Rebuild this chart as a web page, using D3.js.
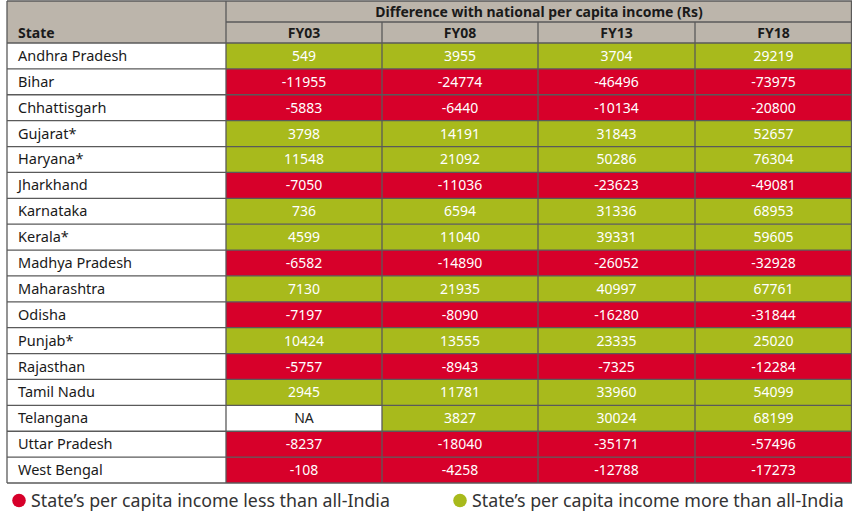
<!DOCTYPE html>
<html>
<head>
<meta charset="utf-8">
<script src="https://cdn.jsdelivr.net/npm/d3@7"></script>
<style>
  body { margin: 0; background: #fff; }
  svg { display: block; font-family: "Noto Sans", Roboto, sans-serif; }
</style>
</head>
<body>
<div id="chart"></div>
<script>
// data
var states = ["Andhra Pradesh", "Bihar", "Chhattisgarh", "Gujarat*", "Haryana*", "Jharkhand",
    "Karnataka", "Kerala*", "Madhya Pradesh", "Maharashtra", "Odisha", "Punjab*", "Rajasthan",
    "Tamil Nadu", "Telangana", "Uttar Pradesh", "West Bengal"];
var years = ["FY03", "FY08", "FY13", "FY18"];
var fy03 = [549, -11955, -5883, 3798, 11548, -7050, 736, 4599, -6582, 7130, -7197, 10424, -5757, 2945, null, -8237, -108];
var fy08 = [3955, -24774, -6440, 14191, 21092, -11036, 6594, 11040, -14890, 21935, -8090, 13555, -8943, 11781, 3827, -18040, -4258];
var fy13 = [3704, -46496, -10134, 31843, 50286, -23623, 31336, 39331, -26052, 40997, -16280, 23335, -7325, 33960, 30024, -35171, -12788];
var fy18 = [29219, -73975, -20800, 52657, 76304, -49081, 68953, 59605, -32928, 67761, -31844, 25020, -12284, 54099, 68199, -57496, -17273];
var legendLabels = ["State\u2019s per capita income less than all-India", "State\u2019s per capita income more than all-India"];

var width = 852, height = 517;
var red = "#d7002a", green = "#a8ba1c", headGray = "#bcb5ab", lineCol = "#5a5a5a";

var svg = d3.select("#chart").append("svg")
    .attr("width", width)
    .attr("height", height);

// columns
var colX = d3.scaleOrdinal().domain(["State"].concat(years)).range([7, 226, 382, 538, 695]);
var colEnd = 852;
var colW = function (c) {
    var i = colX.domain().indexOf(c);
    var next = i < 4 ? colX(colX.domain()[i + 1]) : colEnd;
    return next - colX(c);
};

// rows
var top0 = 1, head1 = 22, head2 = 43, bottom = 483;
var y = d3.scaleBand().domain(states).range([head2, bottom]);

var cols = [fy03, fy08, fy13, fy18];

// header background
svg.append("rect").attr("x", 7).attr("y", top0).attr("width", colEnd - 7).attr("height", head2 - top0)
    .attr("fill", headGray);

// cells
var g = svg.append("g");
years.forEach(function (yr, j) {
    var vals = cols[j];
    var cell = g.selectAll(".c" + j).data(states.map(function (s, i) { return {s: s, v: vals[i]}; }))
        .enter().append("g");
    cell.append("rect")
        .attr("x", colX(yr))
        .attr("y", function (d) { return y(d.s); })
        .attr("width", colW(yr))
        .attr("height", y.bandwidth())
        .attr("fill", function (d) { return d.v == null ? "#fff" : (d.v < 0 ? red : green); });
    cell.append("text")
        .attr("x", colX(yr) + colW(yr) / 2)
        .attr("y", function (d) { return y(d.s) + y.bandwidth() / 2 + 5; })
        .attr("text-anchor", "middle")
        .attr("font-size", "14px")
        .attr("fill", function (d) { return d.v == null ? "#222" : "#fff"; })
        .text(function (d) { return d.v == null ? "NA" : d.v; });
});

// state names
g.selectAll(".st").data(states).enter().append("text")
    .attr("x", 18)
    .attr("y", function (d) { return y(d) + y.bandwidth() / 2 + 5; })
    .attr("font-size", "14.5px")
    .attr("fill", "#1a1a1a")
    .text(function (d) { return d; });

// header texts
svg.append("text")
    .attr("x", (226 + colEnd) / 2).attr("y", 17)
    .attr("text-anchor", "middle").attr("font-size", "14px").attr("font-weight", "bold")
    .attr("fill", "#1a1a1a")
    .text("Difference with national per capita income (Rs)");
svg.append("text")
    .attr("x", 18).attr("y", 38)
    .attr("font-size", "14px").attr("font-weight", "bold").attr("fill", "#1a1a1a")
    .text("State");
years.forEach(function (yr) {
    svg.append("text")
        .attr("x", colX(yr) + colW(yr) / 2).attr("y", 38)
        .attr("text-anchor", "middle").attr("font-size", "14px").attr("font-weight", "bold")
        .attr("fill", "#1a1a1a")
        .text(yr);
});

// grid lines
var lines = svg.append("g").attr("stroke", lineCol).attr("stroke-width", 1.3);
[top0, head1, head2].concat(states.map(function (s) { return y(s) + y.bandwidth(); })).forEach(function (yy, i) {
    lines.append("line")
        .attr("x1", i === 1 ? 226 : 7).attr("x2", colEnd)
        .attr("y1", yy).attr("y2", yy);
});
lines.append("line").attr("x1", 7).attr("x2", 7).attr("y1", top0).attr("y2", bottom);
lines.append("line").attr("x1", 226).attr("x2", 226).attr("y1", top0).attr("y2", bottom);
years.slice(1).forEach(function (yr) {
    lines.append("line").attr("x1", colX(yr)).attr("x2", colX(yr)).attr("y1", head1).attr("y2", bottom);
});
lines.append("line").attr("x1", colEnd - 0.5).attr("x2", colEnd - 0.5).attr("y1", top0).attr("y2", bottom);

// legend
var legend = svg.append("g");
var legX = [19, 460], legCol = [red, green];
legendLabels.forEach(function (t, i) {
    legend.append("circle").attr("cx", legX[i]).attr("cy", 500.5).attr("r", 6.8).attr("fill", legCol[i]);
    legend.append("text").attr("x", legX[i] + 12).attr("y", 507)
        .attr("font-size", "17.8px").attr("fill", "#333").text(t);
});
</script>
</body>
</html>
